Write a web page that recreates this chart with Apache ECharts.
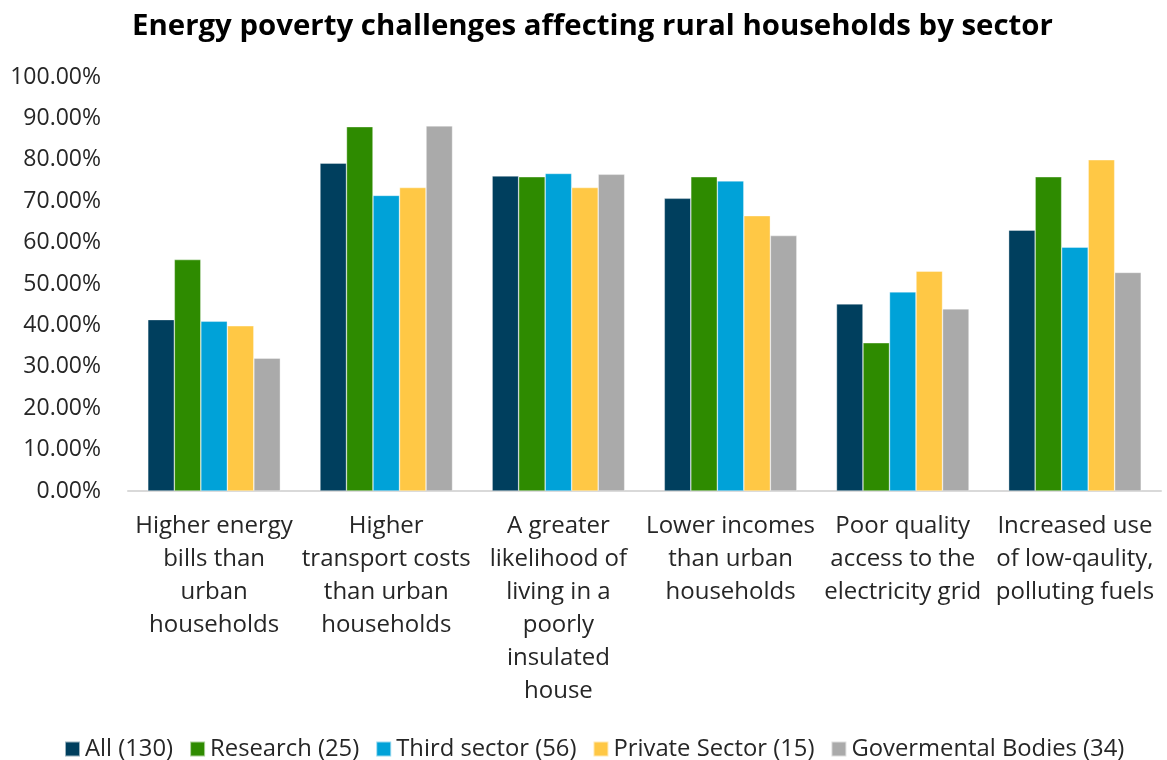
<!DOCTYPE html>
<html>
<head>
<meta charset="utf-8">
<script src="https://cdn.jsdelivr.net/npm/echarts@6/dist/echarts.min.js"></script>
<style>
  html, body { margin: 0; padding: 0; background: #fff; }
  #chart { width: 1167px; height: 760px; }
</style>
</head>
<body>
<div id="chart"></div>
<script>
const categories = [
  'Higher energy\nbills than\nurban\nhouseholds',
  'Higher\ntransport costs\nthan urban\nhouseholds',
  'A greater\nlikelihood of\nliving in a\npoorly\ninsulated\nhouse',
  'Lower incomes\nthan urban\nhouseholds',
  'Poor quality\naccess to the\nelectricity grid',
  'Increased use\nof low-qaulity,\npolluting fuels'
];

const seriesNames = ['All (130)', 'Research (25)', 'Third sector (56)', 'Private Sector (15)', 'Govermental Bodies (34)'];

const allValues = [41.4, 79.2, 76.1, 70.7, 45.2, 63.0];
const researchValues = [55.9, 88.0, 75.9, 75.9, 35.8, 75.9];
const thirdSectorValues = [41.0, 71.4, 76.7, 74.9, 48.1, 58.9];
const privateSectorValues = [39.9, 73.3, 73.3, 66.5, 53.1, 80.0];
const govValues = [32.1, 88.2, 76.5, 61.7, 44.0, 52.8];

const colorPalette = ['#003f5e', '#2e8b00', '#00a2d8', '#ffc845', '#aaaaaa'];

const chartInstance = echarts.init(document.getElementById('chart'));
const font = "'Open Sans', 'Noto Sans', sans-serif";

const seriesData = [allValues, researchValues, thirdSectorValues, privateSectorValues, govValues];

const option = {
  animation: false,
  textStyle: { fontFamily: font },
  title: {
    text: 'Energy poverty challenges affecting rural households by sector',
    left: 127,
    top: 7,
    textStyle: { fontFamily: font, fontSize: 29.4, fontWeight: 'bold', color: '#000' }
  },
  legend: {
    top: 732,
    left: 59,
    itemWidth: 15,
    itemHeight: 15,
    itemGap: 16,
    icon: 'rect',
    textStyle: { fontFamily: font, fontSize: 23.8, color: '#262626' },
    data: seriesNames
  },
  grid: {
    left: 128,
    right: 6,
    top: 77,
    bottom: 269,
    containLabel: false
  },
  xAxis: {
    type: 'category',
    data: categories,
    axisLine: { lineStyle: { color: '#d9d9d9', width: 2 } },
    axisTick: { show: false },
    axisLabel: {
      interval: 0,
      fontFamily: font,
      fontSize: 24,
      lineHeight: 33,
      color: '#262626',
      margin: 19
    }
  },
  yAxis: {
    type: 'value',
    min: 0,
    max: 100,
    interval: 10,
    axisLine: { show: false },
    axisTick: { show: false },
    splitLine: { show: false },
    axisLabel: {
      fontFamily: font,
      fontSize: 23,
      color: '#262626',
      margin: 27,
      formatter: (v) => v.toFixed(2) + '%'
    }
  },
  series: seriesNames.map((name, i) => ({
    name: name,
    type: 'bar',
    data: seriesData[i],
    barGap: '0%',
    barCategoryGap: '23%',
    itemStyle: {
      color: colorPalette[i],
      borderColor: 'rgba(255,255,255,0.6)',
      borderWidth: 0.6
    }
  }))
};

chartInstance.setOption(option);
</script>
</body>
</html>
